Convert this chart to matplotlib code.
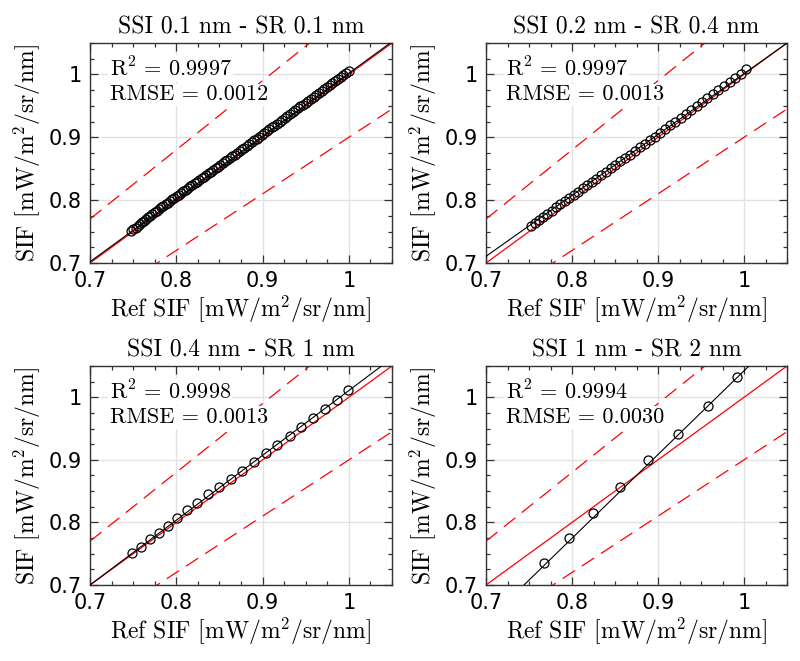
import matplotlib
matplotlib.use("Agg")
import matplotlib.pyplot as plt
from matplotlib.ticker import MultipleLocator, FuncFormatter
import numpy as np

plt.rcParams['mathtext.fontset'] = 'cm'
plt.rcParams['lines.scale_dashes'] = False

# ---------------- data ----------------
titles = ["SSI 0.1 nm - SR 0.1 nm", "SSI 0.2 nm - SR 0.4 nm",
          "SSI 0.4 nm - SR 1 nm", "SSI 1 nm - SR 2 nm"]
r2_text = ["0.9997", "0.9997", "0.9998", "0.9994"]
rmse_text = ["0.0012", "0.0013", "0.0013", "0.0030"]

ref1 = [0.7480, 0.7504, 0.7528, 0.7552, 0.7577, 0.7601, 0.7625, 0.7650, 0.7675, 0.7699,
        0.7724, 0.7749, 0.7774, 0.7799, 0.7824, 0.7849, 0.7875, 0.7900, 0.7926, 0.7951,
        0.7977, 0.8003, 0.8029, 0.8055, 0.8081, 0.8107, 0.8133, 0.8160, 0.8186, 0.8213,
        0.8239, 0.8266, 0.8293, 0.8320, 0.8346, 0.8374, 0.8401, 0.8428, 0.8455, 0.8483,
        0.8510, 0.8538, 0.8565, 0.8593, 0.8621, 0.8649, 0.8677, 0.8705, 0.8734, 0.8762,
        0.8790, 0.8819, 0.8847, 0.8876, 0.8905, 0.8934, 0.8963, 0.8992, 0.9021, 0.9050,
        0.9079, 0.9109, 0.9138, 0.9168, 0.9197, 0.9227, 0.9257, 0.9287, 0.9317, 0.9347,
        0.9377, 0.9408, 0.9438, 0.9469, 0.9499, 0.9530, 0.9561, 0.9591, 0.9622, 0.9653,
        0.9684, 0.9716, 0.9747, 0.9778, 0.9810, 0.9841, 0.9873, 0.9905, 0.9937, 0.9968,
        1.0000]
sif1 = [0.7510, 0.7537, 0.7564, 0.7591, 0.7619, 0.7646, 0.7672, 0.7699, 0.7726, 0.7752,
        0.7779, 0.7805, 0.7831, 0.7857, 0.7883, 0.7909, 0.7935, 0.7961, 0.7987, 0.8012,
        0.8038, 0.8064, 0.8089, 0.8115, 0.8141, 0.8166, 0.8192, 0.8218, 0.8244, 0.8270,
        0.8296, 0.8322, 0.8349, 0.8375, 0.8401, 0.8428, 0.8455, 0.8481, 0.8508, 0.8535,
        0.8562, 0.8589, 0.8616, 0.8643, 0.8671, 0.8698, 0.8726, 0.8753, 0.8782, 0.8809,
        0.8837, 0.8866, 0.8893, 0.8922, 0.8951, 0.8980, 0.9009, 0.9038, 0.9067, 0.9096,
        0.9126, 0.9156, 0.9185, 0.9216, 0.9245, 0.9275, 0.9306, 0.9336, 0.9367, 0.9397,
        0.9428, 0.9459, 0.9490, 0.9521, 0.9552, 0.9583, 0.9615, 0.9645, 0.9677, 0.9708,
        0.9740, 0.9772, 0.9804, 0.9835, 0.9868, 0.9899, 0.9932, 0.9964, 0.9997, 1.0028,
        1.0061]

ref2 = [0.7520, 0.7568, 0.7616, 0.7665, 0.7715, 0.7764, 0.7814, 0.7865, 0.7916, 0.7967,
        0.8019, 0.8071, 0.8124, 0.8177, 0.8230, 0.8284, 0.8338, 0.8393, 0.8448, 0.8504,
        0.8560, 0.8616, 0.8673, 0.8730, 0.8788, 0.8846, 0.8904, 0.8963, 0.9022, 0.9082,
        0.9142, 0.9203, 0.9264, 0.9325, 0.9387, 0.9449, 0.9512, 0.9575, 0.9639, 0.9703,
        0.9767, 0.9832, 0.9897, 0.9962, 1.0028]
sif2 = [0.7595, 0.7642, 0.7689, 0.7737, 0.7786, 0.7834, 0.7883, 0.7933, 0.7983, 0.8033,
        0.8084, 0.8135, 0.8187, 0.8239, 0.8291, 0.8344, 0.8397, 0.8451, 0.8505, 0.8560,
        0.8615, 0.8670, 0.8726, 0.8782, 0.8839, 0.8896, 0.8954, 0.9012, 0.9071, 0.9130,
        0.9190, 0.9250, 0.9311, 0.9372, 0.9434, 0.9496, 0.9559, 0.9623, 0.9687, 0.9751,
        0.9816, 0.9881, 0.9947, 1.0012, 1.0079]

ref3 = [0.7490, 0.7587, 0.7692, 0.7797, 0.7905, 0.8010, 0.8120, 0.8244, 0.8369, 0.8497,
        0.8629, 0.8765, 0.8902, 0.9034, 0.9170, 0.9314, 0.9450, 0.9590, 0.9722, 0.9862,
        0.9990]
sif3 = [0.7505, 0.7610, 0.7728, 0.7833, 0.7950, 0.8067, 0.8195, 0.8317, 0.8450, 0.8572,
        0.8693, 0.8820, 0.8959, 0.9107, 0.9241, 0.9378, 0.9521, 0.9665, 0.9808, 0.9958,
        1.0117]

ref4 = [0.7678, 0.7965, 0.8248, 0.8558, 0.8888, 0.9236, 0.9580, 0.9915]
sif4 = [0.7354, 0.7746, 0.8148, 0.8560, 0.8995, 0.9418, 0.9862, 1.0323]

# linear fits (slope, intercept)
fit_slope = [1.000, 0.969, 1.036, 1.338]
fit_icpt = [0.002, 0.0323, -0.0252, -0.2957]

refs = [ref1, ref2, ref3, ref4]
sifs = [sif1, sif2, sif3, sif4]

band = 0.10  # +/- 10 % envelope
lim = (0.7, 1.05)

# ---------------- figure ----------------
fig = plt.figure(figsize=(8, 6.61), dpi=100)
W, H = 800, 661
boxes = [(90, 43, 392, 263), (486, 43, 787, 263),
         (90, 366, 392, 585), (486, 366, 787, 585)]

cm_font = 'cmr10'
tick_font = 'DejaVu Sans'
xx = np.array(lim)

for i in range(4):
    l, t, r, b = boxes[i]
    ax = fig.add_axes([l / W, 1 - b / H, (r - l) / W, (b - t) / H])
    ax.set_xlim(*lim)
    ax.set_ylim(*lim)
    ax.grid(True, color='#e2e2e2', lw=1.0, zorder=0)
    ax.set_axisbelow(True)

    ax.plot(xx, xx, color='red', lw=0.9, zorder=2)
    ax.plot(xx, xx * (1 + band), color='red', lw=0.9, dashes=(10.5, 6), zorder=2)
    ax.plot(xx, xx * (1 - band), color='red', lw=0.9, dashes=(10.5, 6), zorder=2)
    ax.plot(xx, fit_slope[i] * xx + fit_icpt[i], color='black', lw=0.8, zorder=3)
    ax.plot(refs[i], sifs[i], 'o', mfc='none', mec='black', mew=0.9, ms=6.5, zorder=4)

    ax.xaxis.set_major_locator(MultipleLocator(0.1))
    ax.yaxis.set_major_locator(MultipleLocator(0.1))
    ax.xaxis.set_minor_locator(MultipleLocator(0.025))
    ax.yaxis.set_minor_locator(MultipleLocator(0.025))
    fmt = FuncFormatter(lambda v, p: ('%g' % round(v, 3)))
    ax.xaxis.set_major_formatter(fmt)
    ax.yaxis.set_major_formatter(fmt)
    ax.tick_params(which='both', direction='in', top=True, right=True,
                   color='#333333', width=0.9)
    ax.tick_params(which='major', length=6, labelsize=15, pad=6)
    ax.tick_params(which='minor', length=3)
    for lab in ax.get_xticklabels() + ax.get_yticklabels():
        lab.set_fontfamily(tick_font)
    for s in ax.spines.values():
        s.set_color('#333333')
        s.set_linewidth(1.0)

    ax.set_title(titles[i], fontfamily=cm_font, fontsize=17, pad=7)
    ax.set_xlabel(r'Ref SIF [mW/m$^2$/sr/nm]', fontfamily=cm_font, fontsize=17, labelpad=2)
    ax.set_ylabel(r'SIF [mW/m$^2$/sr/nm]', fontfamily=cm_font, fontsize=17, labelpad=4)

    bb = dict(facecolor='white', edgecolor='none', pad=1)
    ax.text(0.065, 0.885, r'R$^2$ = ' + r2_text[i], transform=ax.transAxes,
            fontfamily=cm_font, fontsize=16, va='center', ha='left', bbox=bb, zorder=5)
    ax.text(0.065, 0.765, 'RMSE = ' + rmse_text[i], transform=ax.transAxes,
            fontfamily=cm_font, fontsize=16, va='center', ha='left', bbox=bb, zorder=5)

fig.savefig('out.png', dpi=100)
